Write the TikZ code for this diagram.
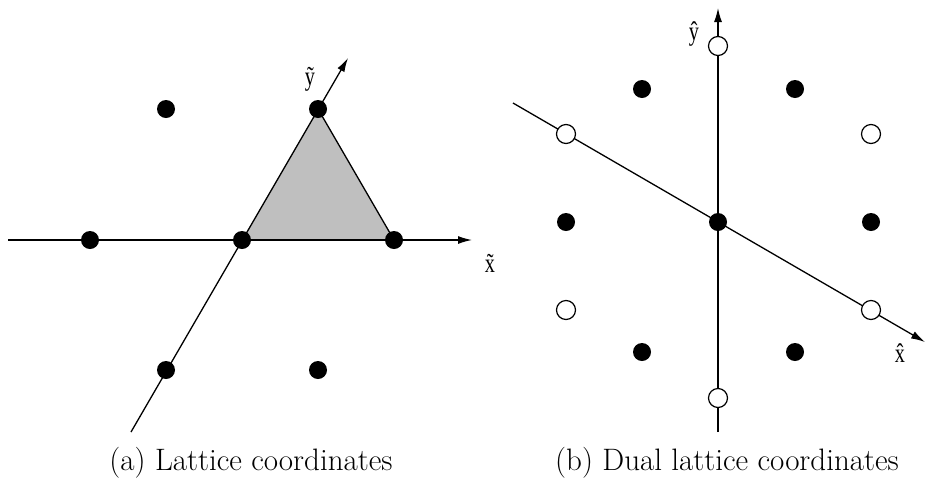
\documentclass[tikz,border=0pt]{standalone}
\usepackage{fontspec}
\newfontfamily\axisfont{Liberation Serif}
\usetikzlibrary{arrows.meta}

\begin{document}
\begin{tikzpicture}[x=1pt, y=-1pt, >={Latex[length=14pt, width=8pt]},
  full/.style={circle, fill=black, inner sep=0pt, minimum size=18pt},
  hollow/.style={circle, draw, line width=1.2pt, fill=white, inner sep=0pt, minimum size=19pt},
  axis/.style={->, line width=1.3pt},
  lbl/.style={font=\axisfont\fontsize{27}{30}\selectfont, inner sep=0pt, xscale=0.75},
  caption/.style={font=\fontsize{31}{36}\selectfont, inner sep=0pt, anchor=base}]
\useasboundingbox (0,0) rectangle (929,483);
% (a) lattice
\coordinate (o) at (242,240);
\coordinate (xs) at (8,240);
\coordinate (xe) at (472,240);
\coordinate (ys) at (131,432);
\coordinate (ye) at (348,58);
\fill[black!25] (242,240) -- (394,240) -- (318,109) -- cycle;
\draw[line width=1.3pt] (318,109) -- (394,240);
\draw[axis] (xs) -- (xe);
\draw[axis] (ys) -- (ye);
\node[full] (a0) at (o) {};
\node[full] (a1) at (394,240) {};
\node[full] (a2) at (90,240) {};
\node[full] (a3) at (318,109) {};
\node[full] (a4) at (166,109) {};
\node[full] (a5) at (166,370) {};
\node[full] (a6) at (318,370) {};
\node[lbl] (xl) at (490,263) {\~{x}};
\node[lbl] (yl) at (310,79) {\~{y}};
\node[caption] (capa) at (251,470) {(a) Lattice coordinates};
% (b) dual lattice
\coordinate (p) at (718,222);
\coordinate (vs) at (718,432);
\coordinate (ve) at (718,8);
\coordinate (ts) at (513,103);
\coordinate (te) at (925,342);
\draw[axis] (vs) -- (ve);
\draw[axis] (ts) -- (te);
\node[full] (b0) at (p) {};
\node[full] (b1) at (642,89) {};
\node[full] (b2) at (795,89) {};
\node[full] (b3) at (566,222) {};
\node[full] (b4) at (871,222) {};
\node[full] (b5) at (642,352) {};
\node[full] (b6) at (795,352) {};
\node[hollow] (c1) at (718,46) {};
\node[hollow] (c2) at (566,134) {};
\node[hollow] (c3) at (871,134) {};
\node[hollow] (c4) at (566,310) {};
\node[hollow] (c5) at (871,310) {};
\node[hollow] (c6) at (718,398) {};
\node[lbl] (xh) at (900,353) {\^{x}};
\node[lbl] (yh) at (694,34) {\^{y}};
\node[caption] (capb) at (727,470) {(b) Dual lattice coordinates};
\end{tikzpicture}
\end{document}
